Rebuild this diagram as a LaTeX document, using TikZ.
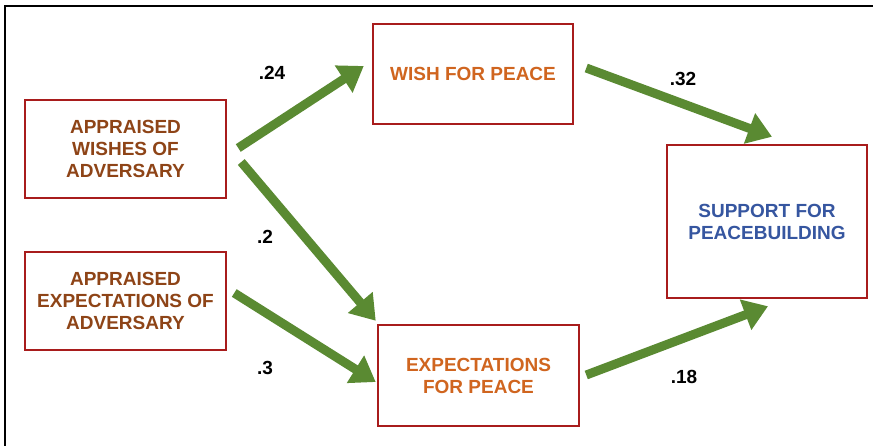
\documentclass[tikz,border=0pt]{standalone}
\usepackage{fontspec}
\setmainfont{Liberation Sans}
\usetikzlibrary{arrows.meta,calc}
\definecolor{boxred}{HTML}{A81C1C}
\definecolor{brownt}{HTML}{8E4417}
\definecolor{oranget}{HTML}{D0651F}
\definecolor{bluet}{HTML}{3656A0}
\definecolor{arrgreen}{HTML}{5A8A32}
\tikzset{
  box/.style={draw=boxred, line width=2.5pt, fill=white, align=center, font=\fontsize{19}{22}\selectfont\bfseries, inner sep=0pt},
  path/.style={draw=arrgreen, line width=9pt, -{Triangle[length=24pt,width=31pt]}},
  coef/.style={font=\fontsize{19}{22}\selectfont\bfseries, text=black}
}
\begin{document}
\begin{tikzpicture}[x=1pt,y=-1pt]
\useasboundingbox (0,0) rectangle (882,445);
\draw[line width=2.5pt, black] (5,446) -- (5,6) -- (873,6);
\node[box, text=brownt, minimum width=201pt, minimum height=98pt] (A) at (125.5,149) {APPRAISED\\WISHES OF\\ADVERSARY};
\node[box, text=brownt, minimum width=201pt, minimum height=98pt] (B) at (125.5,301) {APPRAISED\\EXPECTATIONS OF\\ADVERSARY};
\node[box, text=oranget, minimum width=200pt, minimum height=100pt] (W) at (473,74) {WISH FOR PEACE};
\node[box, text=oranget, minimum width=201pt, minimum height=101pt] (E) at (478.5,375.5) {EXPECTATIONS\\FOR PEACE};
\node[box, text=bluet, minimum width=200pt, minimum height=153pt] (S) at (767,221.5) {SUPPORT FOR\\PEACEBUILDING};
\draw[path] ($(A.east)+(11,-1)$) -- ($(W.west)+(-8,-8)$);
\draw[path] ($(A.east)+(14,13)$) -- ($(E.north west)+(-1,-3)$);
\draw[path] ($(B.east)+(7,-8)$) -- ($(E.west)+(-1,6.5)$);
\draw[path] ($(W.east)+(12,-6)$) -- ($(S.north)+(5,-7)$);
\draw[path] ($(E.east)+(6,-0.5)$) -- ($(S.south)+(1,7)$);
\node[coef] (c1) at (272,73) {.24};
\node[coef] (c2) at (265,237) {.2};
\node[coef] (c3) at (265,368) {.3};
\node[coef] (c4) at (683,79) {.32};
\node[coef] (c5) at (684,377) {.18};
\end{tikzpicture}
\end{document}
